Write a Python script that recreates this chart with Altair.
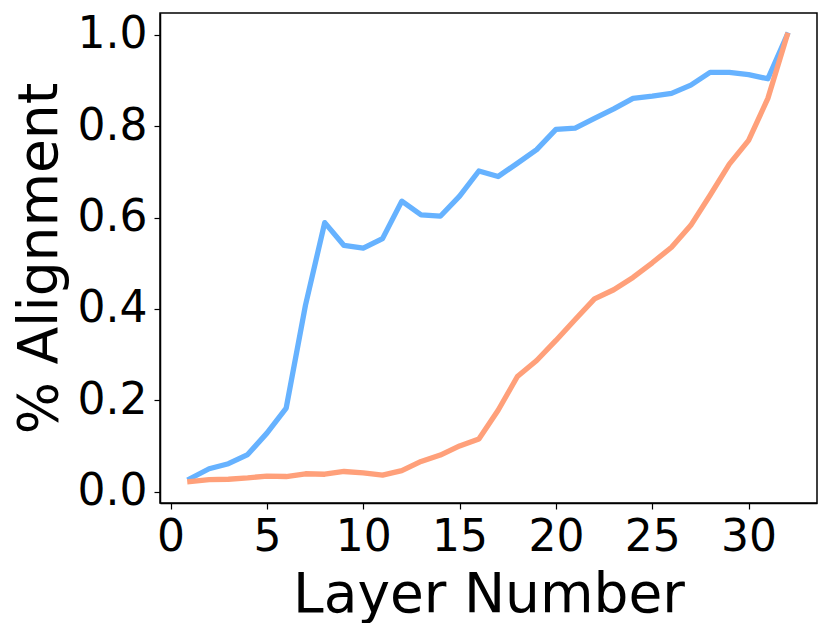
import altair as alt
import pandas as pd

layers = list(range(1, 33))
blue_vals = [0.028, 0.050, 0.061, 0.081, 0.128, 0.183, 0.408, 0.589, 0.539, 0.533,
             0.554, 0.636, 0.606, 0.603, 0.647, 0.702, 0.690, 0.719, 0.749, 0.793,
             0.796, 0.817, 0.838, 0.861, 0.866, 0.872, 0.890, 0.918, 0.918, 0.913,
             0.904, 1.000]
orange_vals = [0.022, 0.026, 0.027, 0.030, 0.034, 0.033, 0.039, 0.038, 0.044, 0.041,
               0.036, 0.046, 0.066, 0.080, 0.100, 0.115, 0.178, 0.252, 0.287, 0.331,
               0.377, 0.422, 0.442, 0.469, 0.501, 0.535, 0.583, 0.649, 0.717, 0.769,
               0.861, 0.999]
series_names = ["blue", "orange"]
series_colors = ["#66b2ff", "#ffa07a"]
x_ticks = [0, 5, 10, 15, 20, 25, 30]
y_ticks = [0.0, 0.2, 0.4, 0.6, 0.8, 1.0]

rows = []
for order, (name, vals) in enumerate(zip(series_names, [blue_vals, orange_vals])):
    for l, v in zip(layers, vals):
        rows.append({"layer": l, "value": v, "series": name, "order": order})
df = pd.DataFrame(rows)

FONT = "DejaVu Sans"

chart = alt.Chart(df).mark_line(
    strokeWidth=5.3, strokeJoin="round", strokeCap="square", clip=True
).encode(
    x=alt.X("layer:Q",
            scale=alt.Scale(domain=[-0.55, 33.55], nice=False, zero=False),
            axis=alt.Axis(title="Layer Number", values=x_ticks, format="d",
                          grid=False, labelFontSize=44, titleFontSize=55,
                          labelFont=FONT, titleFont=FONT, labelColor="black",
                          titleColor="black", titleFontWeight="normal",
                          tickSize=6, tickColor="black", tickWidth=1.2,
                          domainColor="black", domainWidth=1.5,
                          labelPadding=6, labelFlush=False, labelOverlap=False,
                          titleBaseline="alphabetic", titleY=108)),
    y=alt.Y("value:Q",
            scale=alt.Scale(domain=[-0.025, 1.048], nice=False, zero=False),
            axis=alt.Axis(title="% Alignment", values=y_ticks, format=".1f",
                          grid=False, labelFontSize=44, titleFontSize=55,
                          labelFont=FONT, titleFont=FONT, labelColor="black",
                          titleColor="black", titleFontWeight="normal",
                          tickSize=6, tickColor="black", tickWidth=1.2,
                          domainColor="black", domainWidth=1.5,
                          labelPadding=7, labelFlush=False, labelOverlap=False,
                          titleBaseline="alphabetic", titleX=-104, titleAngle=270)),
    color=alt.Color("series:N",
                    scale=alt.Scale(domain=series_names, range=series_colors),
                    legend=None),
    order=alt.Order("order:Q"),
    detail="series:N",
).properties(
    width=657,
    height=490,
    background="white",
    autosize=alt.AutoSizeParams(type="none"),
    padding={"left": 152, "top": 5, "right": 6, "bottom": 120},
).configure_view(
    stroke="#000000", strokeWidth=1.5
)

chart.save("out.html", embed_options={"renderer": "svg", "actions": False})
